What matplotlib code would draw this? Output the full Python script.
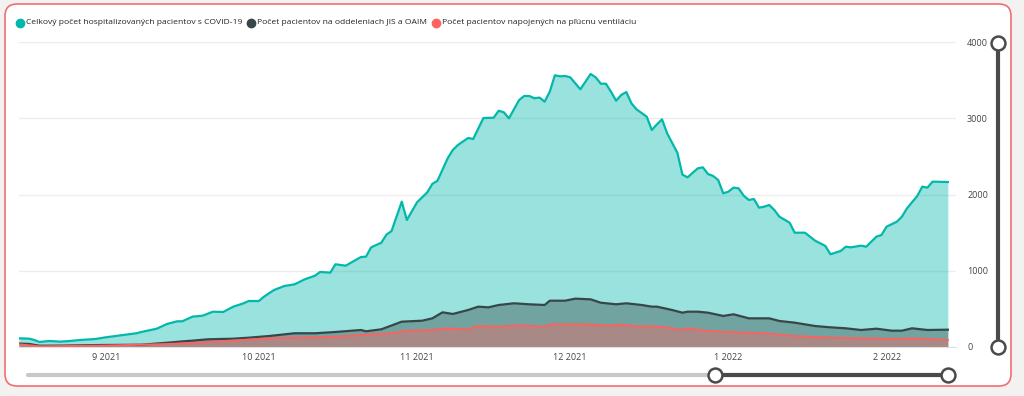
import numpy as np
import pandas as pd
import matplotlib
matplotlib.use("Agg")
from matplotlib import pyplot as plt
from matplotlib.patches import FancyBboxPatch
import matplotlib.dates as mdates

plt.rcParams['font.family'] = ['Open Sans', 'DejaVu Sans']

start = pd.Timestamp('2021-08-15')

# total hospitalised (day offset from start, value)
total_days = [0, 2, 3, 4, 6, 8, 10, 12, 15, 17, 20, 23, 24, 27, 29, 31, 32, 34, 36, 38,
              40, 42, 44, 45, 47, 48, 50, 52, 54, 56, 58, 59, 61, 62, 64, 67, 68, 69, 71, 72,
              73, 75, 76, 78, 80, 81, 82, 84, 85, 86, 88, 89, 91, 93, 94, 95, 96, 98, 99, 100,
              101, 102, 103, 104, 105, 106, 107, 108, 110, 111, 112, 113, 114, 115, 116, 117, 118, 119, 120, 121,
              123, 124, 125, 126, 127, 129, 130, 131, 133, 134, 135, 136, 137, 138, 139, 140, 141, 142, 143, 144,
              145, 146, 147, 148, 149, 151, 152, 154, 156, 158, 159, 161, 162, 163, 165, 166, 167, 168, 169, 170,
              172, 173, 174, 176, 177, 178, 179, 182]
total_vals = [114, 109, 92, 66, 79, 70, 79, 92, 105, 127, 153, 180, 197, 240, 302, 337, 337, 398, 411, 463,
              459, 529, 573, 603, 603, 660, 748, 800, 822, 888, 935, 984, 975, 1085, 1066, 1180, 1185, 1307, 1368, 1473,
              1521, 1906, 1666, 1898, 2028, 2140, 2180, 2475, 2584, 2649, 2741, 2728, 3003, 3007, 3099, 3078, 2999, 3239, 3292, 3292,
              3262, 3271, 3217, 3348, 3563, 3550, 3554, 3537, 3380, 3480, 3580, 3537, 3453, 3453, 3348, 3230, 3305, 3344, 3196, 3117,
              3020, 2846, 2920, 2986, 2802, 2548, 2260, 2225, 2343, 2356, 2269, 2243, 2190, 2015, 2037, 2090, 2081, 1985, 1928, 1941,
              1827, 1840, 1862, 1797, 1709, 1630, 1499, 1499, 1394, 1325, 1216, 1259, 1315, 1307, 1329, 1315, 1381, 1447, 1469, 1578,
              1643, 1709, 1819, 1980, 2103, 2090, 2168, 2164]

# ICU / OAIM patients
icu_days = [0, 2, 4, 8, 16, 24, 29, 33, 34, 37, 42, 45, 49, 54, 58, 62, 67, 68, 71, 75,
            79, 81, 83, 85, 88, 90, 92, 94, 97, 100, 103, 104, 107, 109, 112, 114, 117, 119, 122, 124,
            125, 128, 130, 131, 133, 135, 138, 140, 143, 147, 149, 152, 156, 159, 162, 165, 168, 171, 173, 175,
            178, 182]
icu_vals = [45, 40, 17, 18, 26, 30, 56, 79, 83, 101, 109, 122, 144, 180, 180, 197, 223, 206, 232, 332,
            345, 376, 455, 433, 485, 529, 520, 551, 573, 560, 551, 607, 607, 634, 625, 581, 560, 573, 551, 529,
            529, 485, 450, 463, 463, 450, 407, 429, 376, 376, 341, 319, 275, 258, 245, 223, 240, 214, 214, 245,
            223, 227]

# patients on ventilation
vent_days = [0, 4, 16, 29, 35, 49, 62, 68, 73, 76, 81, 84, 88, 90, 94, 98, 103, 104, 111, 116,
             118, 120, 126, 130, 131, 135, 139, 146, 152, 159, 165, 172, 175, 182]
vent_vals = [35, 9, 17, 39, 56, 114, 135, 161, 180, 214, 223, 245, 232, 275, 266, 284, 266, 297, 297, 279,
             297, 275, 266, 223, 245, 210, 197, 180, 144, 122, 114, 105, 114, 92]

labels = ['Celkový počet hospitalizovaných pacientov s COVID-19',
          'Počet pacientov na oddeleniach JIS a OAIM',
          'Počet pacientov napojených na pľúcnu ventiláciu']
colors = ['#01B8AA', '#374649', '#FD625E']
month_ticks = ['2021-09-01', '2021-10-01', '2021-11-01', '2021-12-01', '2022-01-01', '2022-02-01']
month_labels = ['9 2021', '10 2021', '11 2021', '12 2021', '1 2022', '2 2022']

W, H = 1024, 396
fig = plt.figure(figsize=(W / 100, H / 100), dpi=100)
fig.patch.set_facecolor('#F3F2F1')

# background / card / sliders in pixel coords
bg = fig.add_axes([0, 0, 1, 1])
bg.set_xlim(0, W)
bg.set_ylim(H, 0)
bg.axis('off')
card = FancyBboxPatch((5, 4), 1006, 382, boxstyle='round,pad=0,rounding_size=12',
                      facecolor='white', edgecolor='#EF6F71', linewidth=1.2)
bg.add_patch(card)
# horizontal slider
bg.plot([28, 715], [375, 375], color='#C8C8C8', lw=3, solid_capstyle='round')
bg.plot([715, 948], [375, 375], color='#4A4A4A', lw=3)
bg.plot([715, 948], [375, 375], 'o', ms=10, mfc='white', mec='#4A4A4A', mew=1.8)
# vertical slider
bg.plot([998, 998], [43, 347], color='#4A4A4A', lw=3)
bg.plot([998, 998], [43, 347], 'o', ms=10, mfc='white', mec='#4A4A4A', mew=1.8)

# legend, entries laid out one after another
renderer = fig.canvas.get_renderer()
lx = 19
for lab, c in zip(labels, colors):
    bg.plot(lx + 1, 23, 'o', ms=6, color=c)
    t = bg.text(lx + 7, 23, lab, fontsize=6.1, color='#252423', va='center', ha='left')
    lx = t.get_window_extent(renderer).x1 + 8

ax = fig.add_axes([19 / W, (H - 347) / H, (956 - 19) / W, (347 - 42) / H])
ax.patch.set_alpha(0)

series = [(total_days, total_vals), (icu_days, icu_vals), (vent_days, vent_vals)]
lws = [1.6, 1.6, 1.4]
for (d, v), c, lw in zip(series, colors, lws):
    x = start + pd.to_timedelta(d, unit='D')
    ax.fill_between(x, 0, v, color=c, alpha=0.4, lw=0)
    ax.plot(x, v, color=c, lw=lw)

ax.set_ylim(0, 4000)
ax.set_xlim(start, start + pd.Timedelta(days=183.6))
ax.set_yticks([0, 1000, 2000, 3000, 4000])
ax.yaxis.tick_right()
ax.grid(axis='y', color='#EDEDED', lw=1)
ax.set_axisbelow(True)
ax.set_xticks(pd.to_datetime(month_ticks))
ax.set_xticklabels(month_labels)
ax.tick_params(axis='both', length=0, labelsize=6.5, colors='#444444')
ax.tick_params(axis='y', pad=8)
ax.tick_params(axis='x', pad=4)
for s in ['top', 'left', 'right']:
    ax.spines[s].set_visible(False)
ax.spines['bottom'].set_color('#E0E0E0')

fig.savefig('out.png', dpi=100, facecolor=fig.get_facecolor())
